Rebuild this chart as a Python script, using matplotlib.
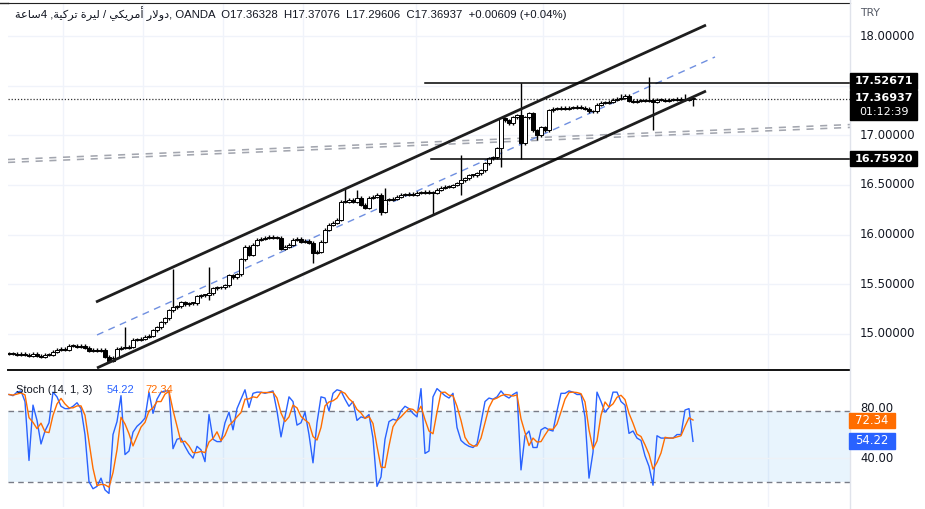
import numpy as np
import matplotlib
matplotlib.use("Agg")
import matplotlib.pyplot as plt
from matplotlib.patches import Rectangle

plt.rcParams['font.family'] = ['Liberation Sans', 'DejaVu Sans']

# ---------------- data ----------------
closes = [
    14.80, 14.80, 14.79, 14.80, 14.79, 14.78, 14.80, 14.78, 14.77, 14.79,
    14.79, 14.82, 14.84, 14.85, 14.84, 14.88, 14.88, 14.87, 14.88, 14.86,
    14.83, 14.84, 14.83, 14.84, 14.77, 14.73, 14.76, 14.85, 14.86, 14.86,
    14.87, 14.94, 14.94, 14.95, 14.97, 14.98, 15.04, 15.07, 15.12, 15.16,
    15.24, 15.27, 15.28, 15.32, 15.30, 15.31, 15.31, 15.38, 15.39, 15.39,
    15.41, 15.46, 15.47, 15.47, 15.49, 15.59, 15.57, 15.60, 15.75, 15.88,
    15.80, 15.90, 15.95, 15.96, 15.97, 15.98, 15.97, 15.97, 15.86, 15.88,
    15.90, 15.95, 15.96, 15.93, 15.94, 15.92, 15.82, 15.83, 15.93, 16.05,
    16.10, 16.12, 16.15, 16.33, 16.33, 16.35, 16.33, 16.37, 16.30, 16.27,
    16.37, 16.38, 16.40, 16.23, 16.35, 16.35, 16.36, 16.38, 16.40, 16.40,
    16.41, 16.40, 16.42, 16.42, 16.43, 16.42, 16.42, 16.45, 16.47, 16.48,
    16.48, 16.50, 16.52, 16.55, 16.57, 16.60, 16.60, 16.62, 16.65, 16.72,
    16.77, 16.78, 16.87, 17.17, 17.15, 17.12, 17.18, 17.20, 16.92, 17.18,
    17.22, 17.05, 17.00, 17.08, 17.05, 17.25, 17.27, 17.27, 17.28, 17.27,
    17.28, 17.28, 17.29, 17.28, 17.27, 17.24, 17.24, 17.31, 17.33, 17.33,
    17.34, 17.36, 17.37, 17.38, 17.40, 17.35, 17.34, 17.35, 17.35, 17.35,
    17.36, 17.34, 17.36, 17.36, 17.35, 17.36, 17.36, 17.37, 17.36, 17.36,
    17.36328, 17.36937,
]
first_open = 14.80
high_spikes = {29: 15.07, 41: 15.65, 50: 15.67, 84: 16.47, 87: 16.45, 94: 16.47,
               113: 16.80, 122: 16.88, 128: 17.53, 153: 17.42, 160: 17.59,
               169: 17.42, 171: 17.37076}
low_spikes = {25: 14.72, 50: 15.34, 76: 15.71, 93: 16.20, 106: 16.20, 113: 16.40,
              123: 16.68, 128: 16.76, 132: 16.95, 145: 17.22, 161: 17.05,
              171: 17.29606}

stoch_k = [
    94, 93, 96, 97, 88, 38, 85, 72, 52, 63,
    70, 96, 92, 84, 82, 82, 84, 87, 82, 60,
    20, 14, 16, 23, 13, 10, 60, 71, 93, 43,
    46, 62, 67, 70, 74, 96, 78, 90, 96, 97,
    97, 48, 56, 57, 50, 44, 40, 50, 47, 37,
    77, 56, 54, 54, 70, 79, 64, 82, 90, 98,
    83, 95, 96, 96, 95, 96, 97, 80, 58, 75,
    92, 88, 68, 70, 79, 60, 36, 70, 92, 91,
    80, 95, 98, 97, 90, 84, 88, 72, 75, 74,
    77, 57, 16, 24, 56, 71, 73, 72, 80, 84,
    82, 78, 75, 99, 44, 46, 92, 99, 96, 93,
    91, 95, 66, 55, 52, 50, 49, 52, 70, 88,
    91, 90, 92, 97, 93, 91, 94, 96, 30, 59,
    63, 49, 49, 64, 66, 64, 63, 80, 95, 95,
    97, 96, 94, 94, 75, 23, 45, 96, 88, 79,
    83, 96, 96, 88, 85, 61, 63, 57, 55, 42,
    33, 17, 59, 57, 57, 57, 57, 60, 60, 80.8,
    82, 54.22,
]

price_ticks = [18.0, 17.0, 16.5, 16.0, 15.5, 15.0]
upper_line = ([21.75, 174.25], [15.322, 18.11])
lower_line = ([22.0, 174.25], [14.658, 17.446])
mid_line = ([22.0, 176.5], [14.990, 17.789])
gray_line = ([-0.25, 210.25], [16.742, 17.094])
level_high = 17.52671
level_low = 16.75920
last_price = 17.36937
vgrid = [13.5, 33.5, 53.5, 73.5, 101.75, 133.5, 153.5, 189.75]

# ---------------- figure ----------------
W, H = 925, 509
fig = plt.figure(figsize=(W / 100, H / 100), dpi=100)

def fx(x):
    return x / W

def fy(y):
    return 1 - y / H

ax = fig.add_axes([fx(8), fy(370), fx(850) - fx(8), fy(3) - fy(370)])
ax2 = fig.add_axes([fx(8), fy(507), fx(850) - fx(8), fy(372) - fy(507)])

n = len(closes)
idx = np.arange(n)
opens = [first_open] + closes[:-1]
opens[-1] = 17.36328
highs, lows = [], []
for i in range(n):
    o, c = opens[i], closes[i]
    highs.append(high_spikes.get(i, max(o, c) + 0.015))
    lows.append(low_spikes.get(i, min(o, c) - 0.015))

XL = (-0.25, 210.25)
ax.set_xlim(*XL)
ax.set_ylim(14.6375, 18.3322)

# grid
for g in price_ticks + [17.5]:
    ax.axhline(g, color='#f0f3fa', lw=1, zorder=0)
for v in vgrid:
    ax.axvline(v, color='#f0f3fa', lw=1, zorder=0)
    ax2.axvline(v, color='#f0f3fa', lw=1, zorder=0)

# gray dashed line (double dash look)
ax.plot(*gray_line, color='#a3a6af', lw=3.2, ls=(0, (1.6, 1.5)), zorder=1)
ax.plot(*gray_line, color='white', lw=0.9, ls='-', zorder=1.1)

# candles
ax.vlines(idx, lows, highs, color='black', lw=1, zorder=3)
body_lo = [min(o, c) for o, c in zip(opens, closes)]
body_h = [max(abs(c - o), 0.008) for o, c in zip(opens, closes)]
face = ['white' if c >= o else 'black' for o, c in zip(opens, closes)]
ax.bar(idx, body_h, bottom=body_lo, width=0.85, color=face,
       edgecolor='black', linewidth=0.7, zorder=4)

# channel
ax.plot(*upper_line, color='#1e1e1e', lw=2, zorder=5, solid_capstyle='butt')
ax.plot(*lower_line, color='#1e1e1e', lw=2, zorder=5, solid_capstyle='butt')
ax.plot(*mid_line, color='#6f8fe0', lw=1, ls=(0, (5, 4)), zorder=2)

# horizontal levels
ax.plot([104, XL[1]], [level_high, level_high], color='black', lw=1.1, zorder=5)
ax.plot([105.5, XL[1]], [level_low, level_low], color='black', lw=1.1, zorder=5)
ax.axhline(last_price, color='#333333', lw=0.9, ls=(0, (1, 1.5)), zorder=2)

for s in ['left', 'right']:
    ax.spines[s].set_visible(False)
ax.spines['top'].set_color('#222222')
ax.spines['bottom'].set_color('#111111')
ax.spines['bottom'].set_linewidth(1.4)
ax.set_xticks([])
ax.set_yticks([])

# ---------------- stochastic ----------------
k = np.array(stoch_k, dtype=float)
d = np.array([k[max(0, i - 2):i + 1].mean() for i in range(len(k))])
ax2.set_xlim(*XL)
ax2.set_ylim(-1.5, 113.1)
ax2.axhspan(20, 80, color='#2196f3', alpha=0.1, lw=0, zorder=0)
ax2.axhline(40, color='#eef1f6', lw=1, zorder=0.5)
ax2.axhline(80, color='#787b86', lw=1, ls=(0, (4, 3)), zorder=1)
ax2.axhline(20, color='#787b86', lw=1, ls=(0, (4, 3)), zorder=1)
ax2.plot(idx, k, color='#2962ff', lw=1, zorder=3)
ax2.plot(idx, d, color='#ff6d00', lw=1, zorder=4)
for s in ax2.spines.values():
    s.set_visible(False)
ax2.set_xticks([])
ax2.set_yticks([])

# separator line
fig.add_artist(plt.Line2D([fx(850), fx(850)], [0, 1], color='#e0e3eb', lw=1))
fig.add_artist(plt.Line2D([0, fx(8)], [fy(3), fy(3)], color='#222222', lw=1))

# ---------------- texts ----------------
dark = '#131722'
lab_font = ['DejaVu Sans']
ar_saa = '\ufe94\ufecb\ufe8e\ufeb3'
ar_turk = '\ufe94\ufef4\ufedb\ufeae\ufe97'
ar_lira = '\ufe93\ufeae\ufef4\ufedf'
ar_amr = '\ufef2\ufedc\ufef3\ufeae\ufee3\ufe83'
ar_dollar = '\ufead\ufefb\ufeed\ufea9'
title = (ar_saa + '4 ,' + ar_turk + ' ' + ar_lira + ' / ' + ar_amr + ' ' + ar_dollar
         + ', OANDA  O17.36328  H17.37076  L17.29606  C17.36937  +0.00609 (+0.04%)')
fig.text(fx(15), fy(14), title, fontsize=8.2, color=dark, va='center', ha='left',
         family=['Liberation Sans', 'DejaVu Sans'])

fig.text(fx(860), fy(13), 'TRY', fontsize=7.8, color='#555a66', va='center', family=lab_font)
for p in price_ticks:
    ypix = 36 + (18 - p) * 99.33
    fig.text(fx(860), fy(ypix), f'{p:.5f}', fontsize=8.4, color=dark, va='center',
             family=lab_font)

def box(y0, y1, color, x0=850, x1=917):
    fig.add_artist(Rectangle((fx(x0), fy(y1)), fx(x1) - fx(x0), fy(y0) - fy(y1),
                             transform=fig.transFigure, color=color, zorder=10))

box(73, 89, 'black')
fig.text(fx(883.5), fy(81), '17.52671', fontsize=8, color='white', weight='bold',
         ha='center', va='center', zorder=11, family=lab_font)
box(90, 120, 'black')
fig.text(fx(883.5), fy(98), '17.36937', fontsize=8, color='white', weight='bold',
         ha='center', va='center', zorder=11, family=lab_font)
fig.text(fx(883.5), fy(112), '01:12:39', fontsize=8, color='white',
         ha='center', va='center', zorder=11, family=lab_font)
box(151, 166, 'black')
fig.text(fx(883.5), fy(158.5), '16.75920', fontsize=8, color='white', weight='bold',
         ha='center', va='center', zorder=11, family=lab_font)

# stoch labels
fig.text(fx(860), fy(409), '80.00', fontsize=8.4, color=dark, va='center', family=lab_font)
fig.text(fx(860), fy(458), '40.00', fontsize=8.4, color=dark, va='center', family=lab_font)
box(413, 428, '#ff6d00', 849, 895)
fig.text(fx(872), fy(420.5), '72.34', fontsize=8.4, color='white', ha='center',
         va='center', zorder=11, family=lab_font)
box(433, 449, '#2962ff', 849, 895)
fig.text(fx(872), fy(441), '54.22', fontsize=8.4, color='white', ha='center',
         va='center', zorder=11, family=lab_font)

fig.text(fx(16), fy(390), 'Stoch (14, 1, 3)', fontsize=8, color=dark, va='center')
fig.text(fx(107), fy(390), '54.22', fontsize=8, color='#2962ff', va='center')
fig.text(fx(145), fy(390), '72.34', fontsize=8, color='#ff6d00', va='center')

fig.savefig('out.png', dpi=100, facecolor='white')
